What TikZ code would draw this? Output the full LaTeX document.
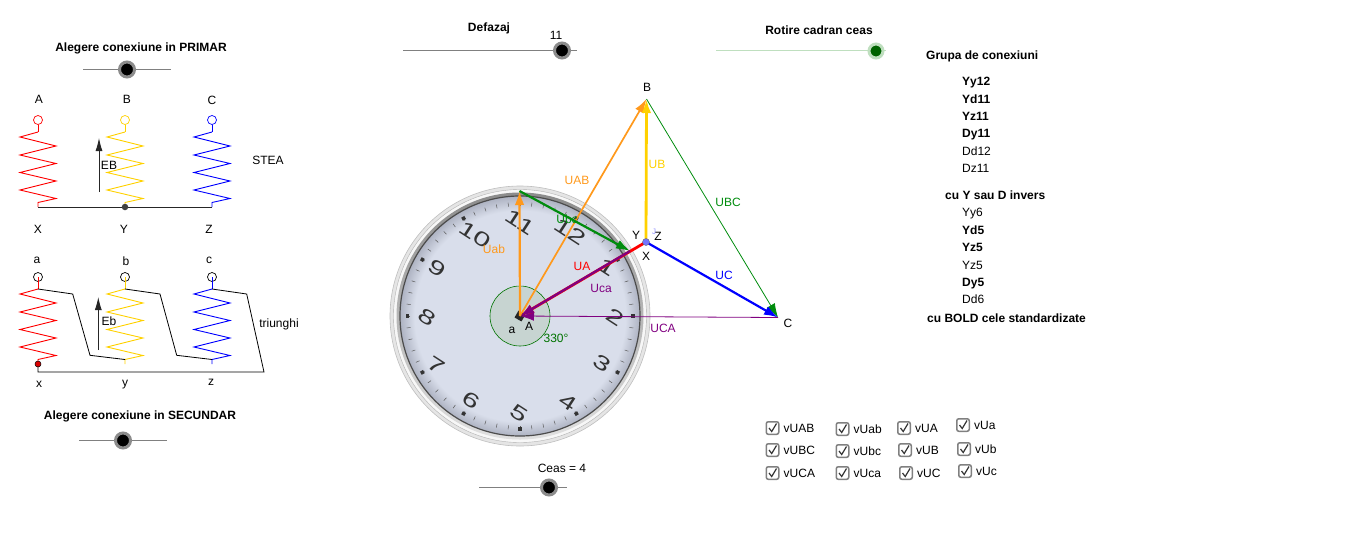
\documentclass[tikz,border=0pt]{standalone}
\usepackage{fontspec}
\setmainfont{Liberation Sans}
\usetikzlibrary{arrows.meta}
\usetikzlibrary{positioning}
\definecolor{vorange}{rgb}{1,0.6,0.11}
\definecolor{vyellow}{rgb}{1,0.82,0}
\definecolor{vgreen}{rgb}{0,0.55,0.05}
\definecolor{vpurple}{rgb}{0.5,0,0.5}
\definecolor{dialblue}{rgb}{0.85,0.87,0.92}
\definecolor{dialedge}{rgb}{0.68,0.70,0.76}
\definecolor{discgreen}{rgb}{0.78,0.83,0.82}
\definecolor{knobgreen}{rgb}{0,0.39,0}
\pgfdeclareradialshading{dialshade}{\pgfpoint{0bp}{0bp}}{color(0bp)=(dialblue); color(22bp)=(dialblue); color(25bp)=(dialedge); color(50bp)=(dialedge)}
\tikzset{
  txt/.style={font=\fontsize{12}{14}\selectfont,inner sep=0pt,yshift=-1pt,text height=8.6pt,text depth=2.5pt},
  boldtxt/.style={font=\fontsize{12}{14}\selectfont\bfseries,inner sep=0pt,yshift=-1pt,text height=8.6pt,text depth=2.5pt},
  knob/.style={circle,draw=black!45,line width=3pt,fill=black,minimum size=15pt,inner sep=0pt},
  greenknob/.style={circle,draw=green!50!black!25,line width=3pt,fill=knobgreen,minimum size=14pt,inner sep=0pt},
  term/.style={circle,draw,line width=0.7pt,minimum size=9pt,inner sep=0pt},
  tickbox/.style={draw=black!50,line width=1.5pt,rounded corners=2pt,fill=white,minimum size=12.5pt,inner sep=0pt},
  hand/.style={-{Latex[length=14pt,width=9.5pt]},line width=2.2pt},
  thinhand/.style={-{Latex[length=14pt,width=9.5pt]},line width=0.8pt},
  vlabel/.style={txt},
}
\begin{document}
\begin{tikzpicture}[x=1pt,y=-1pt]
\useasboundingbox (0,0) rectangle (1366,558);
% draw the titles
\node[boldtxt] (tprimar) at (141,47) {Alegere conexiune in PRIMAR};
\node[boldtxt] (tsecundar) at (140,415) {Alegere conexiune in SECUNDAR};
\node[boldtxt] (tdefazaj) at (489,27) {Defazaj};
\node[boldtxt] (trotire) at (819,30) {Rotire cadran ceas};
\node[txt] (tunspe) at (556,35) {11};
\node[txt] (tceas) at (562,468) {Ceas = 4};

% draw the sliders
\foreach \n/\a/\b/\k/\y in {sp/83/171/127/69,ss/79/167/123/440,sd/403/577/562/50,sc/479/567/549/487} {
    \coordinate (\n l) at (\a,\y);
    \coordinate (\n r) at (\b,\y);
    \draw[black!50,line width=0.8pt] (\n l) -- (\n r);
    \node[knob] (\n k) at (\k,\y+0.5) {};
}
\coordinate (srl) at (716,50);
\coordinate (srr) at (886,50);
\draw[green!50!black!25,line width=0.8pt] (srl) -- (srr);
\node[greenknob] (srk) at (876,51) {};

% draw the coils
\foreach \cx/\col/\nm in {38/red/a,125/vyellow/b,212/blue/c} {
    \foreach \ty in {132,289} {
        \draw[\col,line width=0.9pt] (\cx,\ty) -- ++(-18,5) -- ++(36,9) -- ++(-36,9) -- ++(36,8.5)
            -- ++(-36,9) -- ++(36,8.5) -- ++(-36,9) -- ++(36,8.5) -- ++(-18,4) -- ++(0,4.5);
    }
    \node[term,draw=\col] (p\nm) at (\cx,120) {};
    \draw[\col,line width=0.9pt] (p\nm.south) -- (\cx,132);
    \node[term,draw=black] (s\nm) at (\cx,277) {};
    \draw[\col,line width=0.9pt] (s\nm.center) -- (\cx,289);
}

% star wiring
\node[circle,fill=black!75,minimum size=6.5pt,inner sep=0pt] (star) at (125,207) {};
\coordinate (starl) at (38,207);
\coordinate (starr) at (212,207);
\draw[black!85,line width=0.9pt] (starl) -- (star) -- (starr);
\coordinate (ebs) at (99,192);
\coordinate (ebe) at (99,138);
\draw[-{Latex[length=13pt,width=7pt]},black!85,line width=0.9pt] (ebs) -- (ebe);
\node[txt] (leb) at (109,165) {EB};
\node[txt] (lstea) at (268,160) {STEA};

% triangle wiring
\draw[black,line width=0.8pt] (sa.center) ++(0,12) -- (72.7,294) -- (90,355.3) -- (125,359.5);
\draw[black,line width=0.8pt] (sb.center) ++(0,12) -- (160,294) -- (176.7,355.3) -- (212,359.5);
\draw[black,line width=0.8pt] (sc.center) ++(0,12) -- (246.7,294) -- (264,372) -- (38,372) -- (38,364);
\node[circle,draw=black,line width=0.5pt,fill=red!85!black,minimum size=6pt,inner sep=0pt] (xdot) at (38,364) {};
\coordinate (ebbs) at (98.3,350);
\coordinate (ebbe) at (98.3,297);
\draw[-{Latex[length=13pt,width=7pt]},black!85,line width=0.9pt] (ebbs) -- (ebbe);
\node[txt] (leb2) at (109,321) {Eb};
\node[txt] (ltri) at (279,323) {triunghi};

% coil letters
\foreach \n/\t/\x/\y in {lA/A/39/99,lB/B/127/99,lC/C/212/100,lX/X/38/229,lY/Y/124/229,lZ/Z/209/229,
    la/a/37/259,lb/b/126/261,lc/c/209/259,lx/x/39/383,ly/y/125/382,lz/z/211/381} {
    \node[txt] (\n) at (\x,\y) {\t};
}

% draw the clock
\node[circle,draw=black!25,line width=0.6pt,fill=black!10,minimum size=260pt,inner sep=0pt] (rim) at (520,316) {};
\node[circle,draw=black!30,line width=0.4pt,fill=black!3,minimum size=253pt,inner sep=0pt] (rimb) at (520,316) {};
\node[circle,shade,shading angle=-45,top color=black!45,bottom color=black!12,minimum size=247pt,inner sep=0pt] (rimc) at (520,316) {};
\node[circle,draw=black!70,line width=1.2pt,shading=dialshade,minimum size=240pt,inner sep=0pt] (dial) at (520,316) {};
\begin{scope}[shift={(520,316)}]
\foreach \a in {0,6,...,354} {
    \draw[black!65,line width=0.5pt] (\a:110pt) -- (\a:114pt);
}
\foreach \a in {0,30,...,330} {
    \fill[black!80,rotate=\a] (111,-1.8) rectangle (114.5,1.8);
}
\end{scope}
\foreach \n/\x/\y in {11/520/222,12/570/232,1/607/267,2/615/317,3/602/363,4/568/402,
    5/519/413,6/471/400,7/436/365,8/427/317,9/437/268,10/475/235} {
    \node[inner sep=0pt,rotate=-33,text=black!80,font=\fontsize{20}{20}\selectfont] (h\n) at (\x,\y) {\scalebox{1.5}[1]{\n}};
}

% angle at the centre
\node[circle,draw=green!45!black,line width=0.6pt,fill=discgreen,minimum size=60pt,inner sep=0pt] (disc) at (520,316) {};
\node[rectangle,rotate=-30,fill=black!85,minimum size=8pt,inner sep=0pt] (A) at (520,316) {};
\node[txt,text=green!45!black] (unghi) at (556,338) {330°};

% draw the phasors
\coordinate (N) at (646,242);
\coordinate (B) at (646.5,99);
\coordinate (C) at (778,317.5);
\coordinate (T) at (519.5,191);
\coordinate (K) at (630,251);
\coordinate (O) at (520,316);
\draw[thinhand,vgreen] (B) -- (C);
\draw[thinhand,vpurple] (C) -- (O);
\draw[hand,line width=1.7pt,vorange] (O) -- (B);
\draw[hand,line width=2.8pt,vyellow] (N) -- (B);
\draw[hand,blue] (N) -- (C);
\draw[hand,vorange] (O) -- (T);
\draw[hand,vgreen] (T) -- (K);
\draw[hand,line width=2.8pt,red] (N) -- (O);
\draw[hand,vpurple] (K) -- (O);
\node[circle,draw=black!60,line width=0.4pt,fill=blue!55,minimum size=7pt,inner sep=0pt] (ndot) at (N) {};

% phasor labels
\foreach \n/\t/\c/\x/\y in {lUAB/UAB/vorange/577/180,lUBb/UB/vyellow/657/164,lUBC/UBC/vgreen/728/202,
    lUC/UC/blue/724/275,lUCA/UCA/vpurple/663/328,lUA/UA/red/582/266,lUca/Uca/vpurple/601/288,
    lUbc/Ubc/vgreen/567/219,lUab/Uab/vorange/494/249} {
    \node[vlabel,text=\c] (\n) at (\x,\y) {\t};
}
\foreach \n/\t/\x/\y in {pB/B/647/87,pC/C/788/323,pA/A/529/326,pa/a/512/329,pY/Y/636/235,pZ/Z/658/236,pX/X/646/256} {
    \node[txt] (\n) at (\x,\y) {\t};
}
\node[font=\fontsize{8}{9}\selectfont,text=blue!40,inner sep=0pt] (pJ) at (654,232) {J};

% list of groups
\node[boldtxt,anchor=west] (grupa) at (926,55) {Grupa de conexiuni};
\foreach \n/\t/\y in {g1/Yy12/81,g2/Yd11/99,g3/Yz11/116,g4/Dy11/133,g8/Yd5/230,g9/Yz5/247,g11/Dy5/282} {
    \node[boldtxt,anchor=west] (\n) at (962,\y) {\t};
}
\foreach \n/\t/\y in {g5/Dd12/151,g6/Dz11/168,g7/Yy6/212,g10/Yz5/265,g12/Dd6/299} {
    \node[txt,anchor=west] (\n) at (962,\y) {\t};
}
\node[boldtxt,anchor=west] (invers) at (945,195) {cu Y sau D invers};
\node[boldtxt,anchor=west] (bold) at (927,318) {cu BOLD cele standardizate};

% check boxes
\foreach \n/\t/\x/\y in {c1/vUAB/772.5/428,c2/vUBC/772.5/450,c3/vUCA/772.5/473,
    c4/vUab/842.5/429,c5/vUbc/842.5/451,c6/vUca/842.5/473,
    c7/vUA/904/428,c8/vUB/905/450,c9/vUC/906/473,
    c10/vUa/963/425,c11/vUb/964/449,c12/vUc/965/471} {
    \node[tickbox] (\n) at (\x,\y) {};
    \draw[black!80,line width=1.2pt] (\x-3.5,\y) -- (\x-0.8,\y+3.5) -- (\x+4,\y-4.5);
    \node[txt,right=4pt of \n] (\n t) {\t};
}
\end{tikzpicture}
\end{document}
